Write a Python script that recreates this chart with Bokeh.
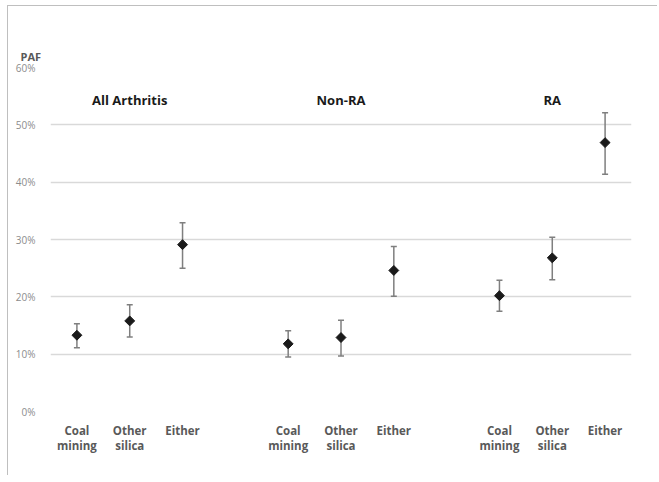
import math
from bokeh.plotting import figure
from bokeh.models import (ColumnDataSource, Range1d, FixedTicker, NumeralTickFormatter,
                          Whisker, TeeHead)
from bokeh.core.properties import value
from bokeh.embed import file_html
from bokeh.resources import INLINE

# ---- data ----
groups = ["All Arthritis", "Non-RA", "RA"]
categories = ["Coal\nmining", "Other\nsilica", "Either"]
paf = [13.3, 15.8, 29.1,   11.8, 12.9, 24.6,   20.2, 26.8, 46.9]
lower = [11.1, 13.0, 25.0,  9.5, 9.7, 20.1,    17.5, 23.0, 41.4]
upper = [15.3, 18.6, 32.9,  14.1, 15.9, 28.8,  22.9, 30.4, 52.1]
y_ticks = [0, 10, 20, 30, 40, 50, 60]

# positions: each group occupies 3 slots, one blank slot between groups
xs, labels = [], {}
for g in range(len(groups)):
    for c in range(len(categories)):
        x = g * (len(categories) + 1) + c
        xs.append(x)
        labels[x] = categories[c]

src = ColumnDataSource(dict(
    x=xs,
    y=[v / 100 for v in paf],
    lo=[v / 100 for v in lower],
    hi=[v / 100 for v in upper],
))

FONT = "Open Sans"

p = figure(width=650, height=470, output_backend="svg", toolbar_location=None,
           x_range=Range1d(-0.5, xs[-1] + 0.5), y_range=Range1d(0, 0.6),
           min_border_left=42, min_border_right=27, min_border_top=61, min_border_bottom=65)
p.styles = {"border-top": "1px solid #bfbfbf", "border-left": "1px solid #bfbfbf",
            "margin-top": "5px", "margin-left": "7px"}
p.outline_line_color = None
p.background_fill_color = "white"
p.border_fill_color = "white"

# caption "PAF" above the y axis
p.title.text = "PAF"
p.title.align = "left"
p.title.offset = -30
p.title.standoff = 8
p.title.text_font = FONT
p.title.text_font_size = "11px"
p.title.text_font_style = "bold"
p.title.text_color = "#595959"

# grid
p.xgrid.grid_line_color = None
p.ygrid.grid_line_color = "#d9d9d9"
p.ygrid.grid_line_width = 1.5

# y axis
p.yaxis.ticker = FixedTicker(ticks=[t / 100 for t in y_ticks])
p.yaxis.formatter = NumeralTickFormatter(format="0%")
p.yaxis.axis_line_color = None
p.yaxis.major_tick_line_color = None
p.yaxis.minor_tick_line_color = None
p.yaxis.major_label_text_font = FONT
p.yaxis.major_label_text_font_size = "10px"
p.yaxis.major_label_text_color = "#8c8c8c"
p.yaxis.major_label_standoff = 9

# x axis
p.xaxis.ticker = FixedTicker(ticks=xs)
p.xaxis.major_label_overrides = labels
p.xaxis.axis_line_color = None
p.xaxis.major_tick_line_color = None
p.xaxis.minor_tick_line_color = None
p.xaxis.major_label_text_font = FONT
p.xaxis.major_label_text_font_size = "11.5px"
p.xaxis.major_label_text_font_style = "bold"
p.xaxis.major_label_text_color = "#595959"
p.xaxis.major_label_text_line_height = 1.0
p.xaxis.major_label_standoff = 5

# error bars
wh = Whisker(source=src, base="x", lower="lo", upper="hi", dimension="height",
             line_color="#7f7f7f", line_width=1.5,
             upper_head=TeeHead(size=6, line_color="#7f7f7f", line_width=1.5),
             lower_head=TeeHead(size=6, line_color="#7f7f7f", line_width=1.5))
p.add_layout(wh)

# markers
p.scatter("x", "y", source=src, marker="square", size=7, angle=math.pi / 4,
          fill_color="#1a1a1a", line_color="#1a1a1a")

# group titles
gsrc = ColumnDataSource(dict(
    x=[g * (len(categories) + 1) + 1 for g in range(len(groups))],
    y=[0.5425] * len(groups),
    t=groups,
))
p.text("x", "y", text="t", source=gsrc, text_align="center", text_baseline="middle",
       text_font=value(FONT), text_font_size="13px", text_font_style="bold",
       text_color="#1a1a1a")

open("out.html", "w").write(file_html(p, INLINE))
